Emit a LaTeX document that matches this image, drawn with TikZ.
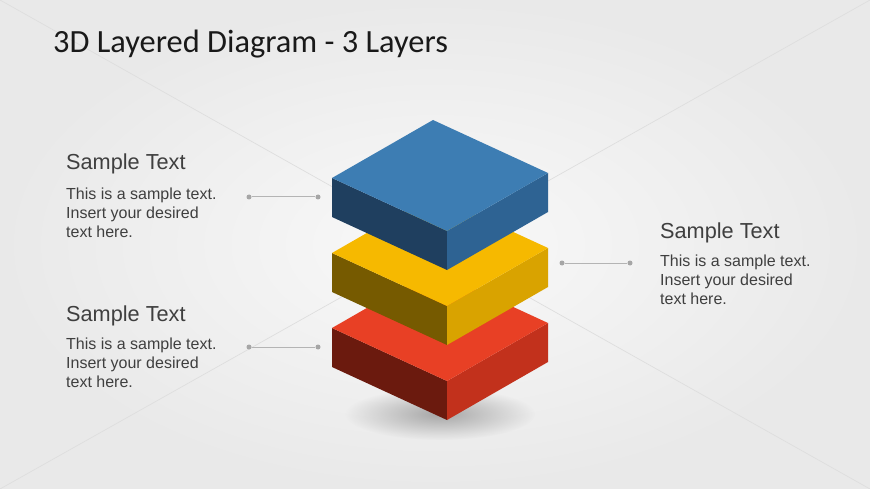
\documentclass[tikz,border=0pt]{standalone}
\usepackage{fontspec}
\setmainfont{Liberation Sans}
\newfontfamily\titlefont{Carlito}
\usetikzlibrary{calc}
\usetikzlibrary{fadings}

\definecolor{bgin}{HTML}{F9F9F9}
\definecolor{bgout}{HTML}{E9E9E9}
\definecolor{bgline}{HTML}{DEDEDE}
\definecolor{txtgray}{HTML}{3F3F3F}
\definecolor{dotgray}{HTML}{A6A6A6}
\definecolor{linegray}{HTML}{B4B4B4}
\definecolor{bluetop}{HTML}{3D7DB3}
\definecolor{blueleft}{HTML}{1F3F5F}
\definecolor{blueright}{HTML}{2E6393}
\definecolor{yeltop}{HTML}{F6B900}
\definecolor{yelleft}{HTML}{765A00}
\definecolor{yelright}{HTML}{D9A300}
\definecolor{redtop}{HTML}{E84025}
\definecolor{redleft}{HTML}{6B1A0E}
\definecolor{redright}{HTML}{C2311C}

\tikzfading[name=shadowfade,inner color=transparent!0,outer color=transparent!100]

\begin{document}
\begin{tikzpicture}[x=1pt,y=-1pt,
  dot/.style={circle,fill=dotgray,inner sep=0pt,minimum size=5pt},
  link/.style={draw=linegray,line width=1pt},
  head/.style={anchor=base west,inner sep=0pt,text=txtgray,font=\fontsize{21.7}{26}\selectfont},
  body/.style={anchor=north west,inner sep=0pt,text=txtgray,align=left,font=\fontsize{16}{19}\selectfont}]

\useasboundingbox (0,0) rectangle (870,489);
\shade[inner color=bgin,outer color=bgout] (0,0) rectangle (870,489);
\draw[bgline,line width=0.7pt] (0,0) -- (870,489);
\draw[bgline,line width=0.7pt] (0,489) -- (870,0);

\node[anchor=base west,inner sep=0pt,text=black!90,font=\titlefont\fontsize{32.4}{38}\selectfont] (title) at (53,53) {3D Layered Diagram - 3 Layers};

\fill[black!35,path fading=shadowfade] (440,414) ellipse (95 and 26);

\begin{scope}

  % red layer
  \coordinate (rl) at (332,328);
  \coordinate (rt) at (433,270);
  \coordinate (rr) at (548,323);
  \coordinate (rf) at (447,381);
  \fill[redleft] (rl) -- (rf) -- ($(rf)+(0,39)$) -- ($(rl)+(0,39)$) -- cycle;
  \fill[redright] (rf) -- (rr) -- ($(rr)+(0,39)$) -- ($(rf)+(0,39)$) -- cycle;
  \fill[redtop] (rl) -- (rt) -- (rr) -- (rf) -- cycle;

  % yellow layer
  \coordinate (yl) at (332,253);
  \coordinate (yt) at (433,195);
  \coordinate (yr) at (548,248);
  \coordinate (yf) at (447,306);
  \fill[yelleft] (yl) -- (yf) -- ($(yf)+(0,39)$) -- ($(yl)+(0,39)$) -- cycle;
  \fill[yelright] (yf) -- (yr) -- ($(yr)+(0,39)$) -- ($(yf)+(0,39)$) -- cycle;
  \fill[yeltop] (yl) -- (yt) -- (yr) -- (yf) -- cycle;

  % blue layer
  \coordinate (bl) at (332,178);
  \coordinate (bt) at (433,120);
  \coordinate (br) at (548,173);
  \coordinate (bf) at (447,231);
  \fill[blueleft] (bl) -- (bf) -- ($(bf)+(0,39)$) -- ($(bl)+(0,39)$) -- cycle;
  \fill[blueright] (bf) -- (br) -- ($(br)+(0,39)$) -- ($(bf)+(0,39)$) -- cycle;
  \fill[bluetop] (bl) -- (bt) -- (br) -- (bf) -- cycle;

\end{scope}

  \node[head] (h1) at (66,170) {Sample Text};
  \node[body] (t1) at (66,188) {This is a sample text.\\Insert your desired\\text here.};
  \node[head] (h2) at (66,321) {Sample Text};
  \node[body] (t2) at (66,338) {This is a sample text.\\Insert your desired\\text here.};
  \node[head] (h3) at (660,238) {Sample Text};
  \node[body] (t3) at (660,255) {This is a sample text.\\Insert your desired\\text here.};

  \node[dot] (a1) at (249,197) {};
  \node[dot] (b1) at (318,197) {};
  \node[dot] (a2) at (249,347) {};
  \node[dot] (b2) at (318,347) {};
  \node[dot] (a3) at (562,263) {};
  \node[dot] (b3) at (630,263) {};

  \draw[link] (a1) -- (b1);
  \draw[link] (a2) -- (b2);
  \draw[link] (a3) -- (b3);

\end{tikzpicture}
\end{document}
